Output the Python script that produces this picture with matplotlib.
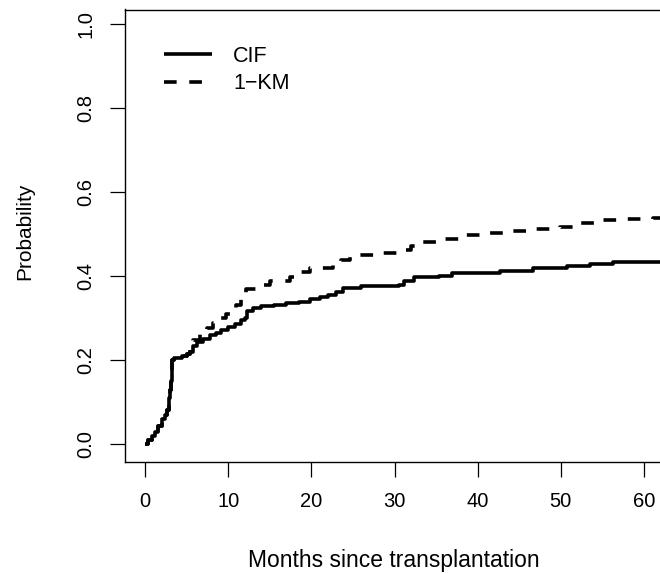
import matplotlib
matplotlib.use("Agg")
import matplotlib.pyplot as plt

# ---- data ----
cif_t = [0, 0.4, 0.8, 1.2, 1.6, 2.0, 2.4, 2.7, 2.85, 3.0, 3.1, 3.2, 3.3, 3.5, 4.0,
         4.5, 5.0, 5.4, 5.8, 6.3, 7.0, 7.8, 8.5, 9.2, 10.0, 10.8, 11.5, 12.0, 12.3,
         13.0, 14.0, 15.5, 17.0, 18.5, 19.8, 21.0, 22.0, 23.0, 23.8, 26.0, 30.6,
         31.2, 32.4, 35.4, 36.9, 42.7, 46.6, 50.7, 53.5, 56.3, 62.5]
cif_y = [0.0, 0.01, 0.02, 0.03, 0.045, 0.06, 0.07, 0.082, 0.11, 0.13, 0.15, 0.17,
         0.20, 0.205, 0.205, 0.21, 0.215, 0.22, 0.235, 0.245, 0.252, 0.26, 0.266,
         0.272, 0.28, 0.287, 0.295, 0.30, 0.318, 0.325, 0.33, 0.333, 0.337, 0.34,
         0.347, 0.351, 0.355, 0.363, 0.372, 0.376, 0.379, 0.388, 0.398, 0.402,
         0.407, 0.413, 0.419, 0.424, 0.429, 0.435, 0.439]

km_t = [0, 0.4, 0.8, 1.2, 1.6, 2.0, 2.4, 2.7, 2.85, 3.0, 3.1, 3.2, 3.3, 3.5, 4.0,
        4.5, 5.0, 5.4, 5.8, 6.6, 7.4, 8.2, 9.0, 9.8, 10.5, 11.0, 11.6, 12.2, 13.5,
        15.0, 17.4, 18.5, 19.8, 22.6, 23.6, 24.6, 28.2, 30.6, 32.0, 33.0, 35.4,
        38.3, 41.1, 43.9, 46.7, 49.9, 51.9, 55.1, 57.9, 61.1, 62.5]
km_y = [0.0, 0.01, 0.02, 0.03, 0.045, 0.06, 0.07, 0.082, 0.11, 0.13, 0.15, 0.17,
        0.20, 0.205, 0.205, 0.21, 0.215, 0.23, 0.248, 0.262, 0.276, 0.29, 0.30,
        0.31, 0.32, 0.332, 0.345, 0.37, 0.38, 0.39, 0.399, 0.41, 0.419, 0.431,
        0.44, 0.451, 0.455, 0.463, 0.472, 0.482, 0.49, 0.498, 0.502, 0.508,
        0.512, 0.518, 0.526, 0.534, 0.536, 0.538, 0.538]

labels = ["CIF", "1\u2212KM"]
xticks = [0, 10, 20, 30, 40, 50, 60]
yticks = [0.0, 0.2, 0.4, 0.6, 0.8, 1.0]

# ---- figure ----
plt.rcParams['font.family'] = ['Liberation Sans', 'DejaVu Sans']
W, H = 660, 573
fig = plt.figure(figsize=(W / 100, H / 100), dpi=100)
left, right, top, bottom = 125, 664, 9.5, 461.7
ax = fig.add_axes([left / W, 1 - bottom / H, (right - left) / W, (bottom - top) / H])
ax.set_xlim(-2.4, 62.4)
ax.set_ylim(-0.041, 1.035)

ax.plot(cif_t, cif_y, drawstyle='steps-post', color='black', lw=2.6,
        solid_capstyle='butt', label=labels[0])
ax.plot(km_t, km_y, drawstyle='steps-post', color='black', lw=2.6,
        linestyle=(0, (3.5, 3.5)), dash_capstyle='butt', label=labels[1])

for s in ax.spines.values():
    s.set_linewidth(1.0)

ax.set_xticks(xticks)
ax.set_xticklabels([str(v) for v in xticks])
ax.set_yticks(yticks)
ax.set_yticklabels(["%.1f" % v for v in yticks], rotation=90, va='center')
ax.tick_params(axis='both', direction='out', length=10.5, width=0.9,
               labelsize=14.5, colors='black')
ax.tick_params(axis='x', pad=11)
ax.tick_params(axis='y', pad=11)

ax.set_xlabel("Months since transplantation", fontsize=16.5)
ax.set_ylabel("Probability", fontsize=15)
ax.xaxis.set_label_coords((394 - left) / (right - left), -(560 - bottom) / (bottom - top))
ax.yaxis.set_label_coords(-(left - 25) / (right - left), (bottom - 231) / (bottom - top))
ax.xaxis.label.set_va('center')
ax.yaxis.label.set_va('center')

leg = ax.legend(loc='upper left', bbox_to_anchor=(164 / W, 1 - 46 / H),
                bbox_transform=fig.transFigure, frameon=False, fontsize=15.5,
                handlelength=2.25, handletextpad=0.95, labelspacing=0.3,
                borderpad=0, borderaxespad=0)

fig.savefig("out.png", dpi=100)
